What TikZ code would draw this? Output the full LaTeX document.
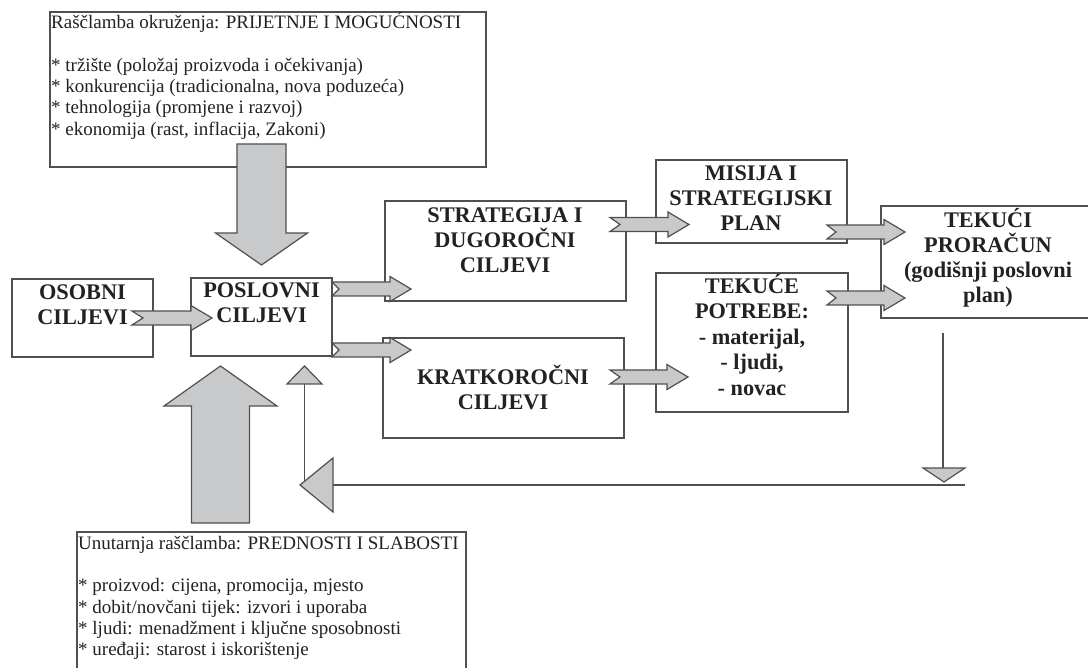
\documentclass[tikz,border=0pt]{standalone}
\usepackage{fontspec}
\setmainfont{Liberation Serif}
\usetikzlibrary{calc}
\definecolor{linec}{HTML}{505050}
\definecolor{fillc}{HTML}{C8C9CB}
\definecolor{txtc}{HTML}{222222}
\tikzset{
  box/.style={draw=linec, line width=1.4pt, fill=white, inner sep=0pt, outer sep=0pt},
  btxt/.style={font=\fontsize{22.3}{25}\selectfont\bfseries, align=center, inner sep=0pt, text=txtc, anchor=north},
  rtxt/.style={font=\fontsize{19}{21.3}\selectfont, align=left, inner sep=0pt, text=txtc, anchor=north west},
  blockarrow/.style={draw=linec, fill=fillc, line width=1.2pt, line join=miter},
  conn/.style={draw=linec, line width=1.4pt},
  tri/.style={draw=linec, fill=fillc, line width=1.2pt}
}
\newcommand\notcharrow[3]{%
  \draw[blockarrow] ($#1+(0,-7)$) -- ($#2+(-21,-7)$) -- ($#2+(-21,-12.5)$) -- #2
    -- ($#2+(-21,12.5)$) -- ($#2+(-21,7)$) -- ($#1+(0,7)$) -- ($#1+(#3,0)$) -- cycle;}
\begin{document}
\begin{tikzpicture}[x=1pt,y=-1pt]
\useasboundingbox (0,0) rectangle (1088,668);
\fill[white] (0,0) rectangle (1088,668);

% top box (environment analysis)
\node[box, minimum width=436pt, minimum height=155pt, anchor=north west] (okruz) at (50,12) {};
\node[rtxt] (okruz-t) at (51,12) {\rule{0pt}{16pt}Raščlamba okruženja: PRIJETNJE I MOGUĆNOSTI\\[21.3pt]
* tržište (položaj proizvoda i očekivanja)\\
* konkurencija (tradicionalna, nova poduzeća)\\
* tehnologija (promjene i razvoj)\\
* ekonomija (rast, inflacija, Zakoni)};

% bottom box (internal analysis)
\node[box, minimum width=389pt, minimum height=158pt, anchor=north west] (unut) at (77,532) {};
\node[rtxt] (unut-t) at (78,533) {\rule{0pt}{16pt}Unutarnja raščlamba: PREDNOSTI I SLABOSTI\\[21.3pt]
* proizvod: cijena, promocija, mjesto\\
* dobit/novčani tijek: izvori i uporaba\\
* ljudi: menadžment i ključne sposobnosti\\
* uređaji: starost i iskorištenje};

% main boxes
\node[box, minimum width=141pt, minimum height=78pt, anchor=north west] (osobni) at (12,279) {};
\node[box, minimum width=141pt, minimum height=78pt, anchor=north west] (poslovni) at (191,278) {};
\node[box, minimum width=241pt, minimum height=100pt, anchor=north west] (strat) at (385,201) {};
\node[box, minimum width=241pt, minimum height=100pt, anchor=north west] (kratko) at (383,338) {};
\node[box, minimum width=191pt, minimum height=83pt, anchor=north west] (misija) at (656,160) {};
\node[box, minimum width=192pt, minimum height=139pt, anchor=north west] (tekuce) at (656,273) {};
\node[box, minimum width=214pt, minimum height=112pt, anchor=north west] (tekuci) at (881,206) {};

\node[btxt] (osobni-t) at (82.5,279) {\rule{0pt}{20pt}OSOBNI\\CILJEVI};
\node[btxt] (poslovni-t) at (261.5,277) {\rule{0pt}{20pt}POSLOVNI\\CILJEVI};
\node[btxt] (strat-t) at (505,202) {\rule{0pt}{20pt}STRATEGIJA I\\DUGOROČNI\\CILJEVI};
\node[btxt] (kratko-t) at (503,364) {\rule{0pt}{20pt}KRATKOROČNI\\CILJEVI};
\node[btxt] (misija-t) at (751,160) {\rule{0pt}{20pt}MISIJA I\\STRATEGIJSKI\\PLAN};
\node[btxt, font=\fontsize{22.3}{25.5}\selectfont\bfseries] (tekuce-t) at (752,273) {\rule{0pt}{20pt}TEKUĆE\\POTREBE:\\- materijal,\\- ljudi,\\- novac};
\node[btxt] (tekuci-t) at (988,207) {\rule{0pt}{20pt}TEKUĆI\\PRORAČUN\\(godišnji poslovni\\plan)};

% big block arrows
\coordinate (dntip) at ($(poslovni.north)+(0,-13)$);
\draw[blockarrow] (dntip) -- ++(46,-32) -- ++(-21.5,0) -- ++(0,-89) -- ++(-49,0) -- ++(0,89) -- ++(-21.5,0) -- cycle;
\coordinate (uptip) at ($(poslovni.south)+(-41,10)$);
\draw[blockarrow] (uptip) -- ++(56.5,40) -- ++(-27.5,0) -- ++(0,117) -- ++(-58,0) -- ++(0,-117) -- ++(-27.5,0) -- cycle;

% notched arrows
\coordinate (a1t) at ($(osobni.east)+(-21,0)$);
\coordinate (a1h) at ($(osobni.east)+(59,0)$);
\notcharrow{(a1t)}{(a1h)}{11}
\coordinate (a2t) at ($(poslovni.east)+(0,-28)$);
\coordinate (a2h) at ($(poslovni.east)+(79,-28)$);
\notcharrow{(a2t)}{(a2h)}{7}
\coordinate (a3t) at ($(poslovni.east)+(0,33)$);
\coordinate (a3h) at ($(poslovni.east)+(79,33)$);
\notcharrow{(a3t)}{(a3h)}{7}
\coordinate (a4t) at ($(strat.east)+(-16,-26.5)$);
\coordinate (a4h) at ($(strat.east)+(63,-26.5)$);
\notcharrow{(a4t)}{(a4h)}{10}
\coordinate (a5t) at ($(kratko.east)+(-14,-11)$);
\coordinate (a5h) at ($(kratko.east)+(64,-11)$);
\notcharrow{(a5t)}{(a5h)}{10}
\coordinate (a6t) at ($(misija.east)+(-20,30.5)$);
\coordinate (a6h) at ($(misija.east)+(58,30.5)$);
\notcharrow{(a6t)}{(a6h)}{9}
\coordinate (a7t) at ($(tekuce.east)+(-21,-44.5)$);
\coordinate (a7h) at ($(tekuce.east)+(57,-44.5)$);
\notcharrow{(a7t)}{(a7h)}{9}

% feedback loop
\coordinate (fb1) at ($(tekuci.south west)+(62,15)$);
\coordinate (fb2) at ($(fb1)+(0,135)$);
\draw[conn] (fb1) -- (fb2);
\draw[tri] ($(fb2)+(-20,0)$) -- ($(fb2)+(22,0)$) -- ($(fb2)+(1,14)$) -- cycle;
\coordinate (fb3) at ($(fb2)+(22,17)$);
\coordinate (fb4) at ($(fb3)+(-632,0)$);
\coordinate (fbtip) at ($(poslovni.south)+(43,10)$);
\draw[conn] (fb3) -- (fb4);
\draw[conn] ($(fbtip)+(0,18)$) -- ($(fbtip)+(0,116)$);
\draw[tri] ($(fb4)+(0,-27)$) -- ($(fb4)+(0,27)$) -- ($(fb4)+(-33,0)$) -- cycle;
\draw[tri] (fbtip) -- ($(fbtip)+(17.5,18)$) -- ($(fbtip)+(-17.5,18)$) -- cycle;
\end{tikzpicture}
\end{document}
